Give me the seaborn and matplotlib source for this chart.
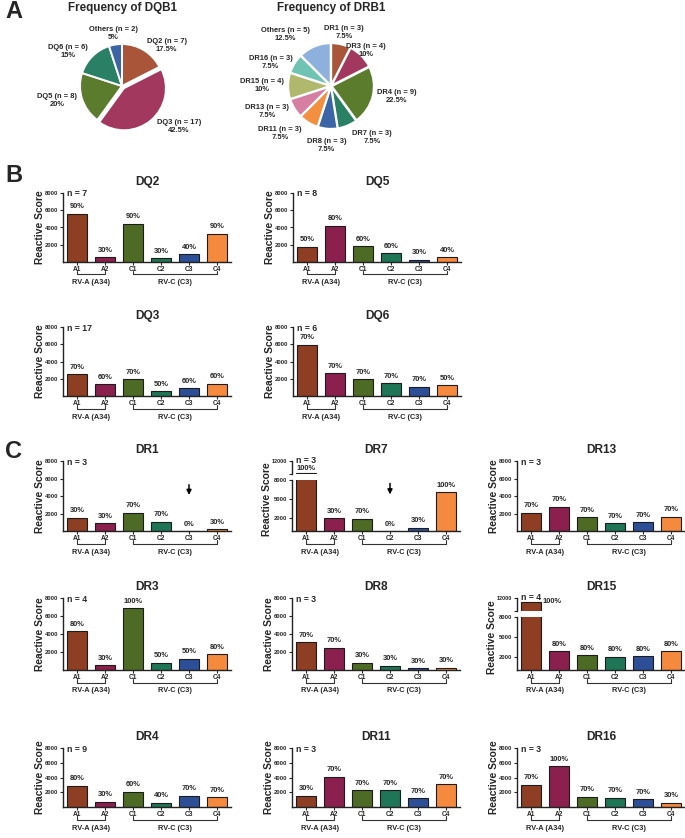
import numpy as np
import matplotlib
matplotlib.use('Agg')
import matplotlib.pyplot as plt
import pandas as pd
import seaborn as sns

sns.set_theme(style='ticks')
plt.rcParams['font.family'] = ['Liberation Sans', 'DejaVu Sans']
plt.rcParams['font.weight'] = 'bold'


# pie chart data (panel A)
dqb1_names = ['DQ2', 'DQ3', 'DQ5', 'DQ6', 'Others']
dqb1_counts = [7, 17, 8, 6, 2]
dqb1_colors = ['#A9553A', '#A3385F', '#5B7B2D', '#2A8065', '#3C65A6']

drb1_names = ['DR1', 'DR3', 'DR4', 'DR7', 'DR8', 'DR11', 'DR13', 'DR15', 'DR16', 'Others']
drb1_counts = [3, 4, 9, 3, 3, 3, 3, 4, 3, 5]
drb1_colors = ['#A9553A', '#A3385F', '#5B7B2D', '#2A8065', '#3C65A6',
               '#F39040', '#D77FA3', '#AFB86D', '#6FC3B2', '#8DB0DD']

# bar chart data (panels B and C)
antigens = ['A1', 'A2', 'C1', 'C2', 'C3', 'C4']
bar_colors = ['#8E3E22', '#8B1F4D', '#4D6B24', '#1E7656', '#2D4F98', '#F58A3F']

dq2_scores = [5580, 580, 4420, 420, 920, 3270]
dq2_pct = [90, 30, 90, 30, 40, 90]
dq5_scores = [1770, 4190, 1850, 1040, 270, 540]
dq5_pct = [50, 80, 60, 60, 30, 40]
dq3_scores = [2540, 1350, 1920, 580, 920, 1420]
dq3_pct = [70, 60, 70, 50, 60, 60]
dq6_scores = [5960, 2650, 1960, 1500, 1080, 1270]
dq6_pct = [70, 70, 70, 70, 70, 50]

dr1_scores = [1500, 870, 2100, 1060, 0, 230]
dr1_pct = [30, 30, 70, 70, 0, 30]
dr7_scores = [10200, 2000, 1900, 0, 500, 6050]
dr7_pct = [100, 30, 70, 0, 30, 100]
dr13_scores = [2100, 2800, 1600, 900, 1000, 1650]
dr13_pct = [70, 70, 70, 70, 70, 70]
dr3_scores = [4330, 520, 6850, 800, 1250, 1780]
dr3_pct = [80, 30, 100, 50, 50, 80]
dr8_scores = [3100, 2500, 800, 500, 200, 250]
dr8_pct = [70, 70, 30, 30, 30, 30]
dr15_scores = [11450, 2800, 2250, 2000, 2100, 2850]
dr15_pct = [100, 80, 80, 80, 80, 80]
dr4_scores = [2870, 700, 2100, 600, 1500, 1350]
dr4_pct = [80, 30, 60, 40, 70, 70]
dr11_scores = [1500, 4100, 2250, 2250, 1200, 3100]
dr11_pct = [30, 70, 70, 70, 70, 70]
dr16_scores = [3000, 5500, 1400, 1250, 1050, 600]
dr16_pct = [70, 100, 70, 70, 70, 30]

# down arrows marking the 0% bars: (antigen index, arrow start, arrow end)
dr1_arrow = (4, 5600, 3800)
dr7_arrow = (3, 7900, 5300)


W, H = 685, 838
fig = plt.figure(figsize=(W / 100, H / 100), dpi=100)


def px_axes(left, top, right, bottom):
    # axes placed with pixel coordinates measured from the top left corner
    return fig.add_axes([left / W, 1 - bottom / H, (right - left) / W, (bottom - top) / H])


def ftext(x, y, s, **kw):
    fig.text(x / W, 1 - y / H, s, **kw)


# panel letters
ftext(5, 12, 'A', fontsize=17, fontweight='bold', va='center')
ftext(5, 175, 'B', fontsize=17, fontweight='bold', va='center')
ftext(5, 451, 'C', fontsize=17, fontweight='bold', va='center')


# ---- panel A: pie charts ----
def draw_pie(cx, cy, r, names, counts, colors, explode, label_dist, label_ha, title):
    ax = px_axes(cx - r * 1.15, cy - r * 1.15, cx + r * 1.15, cy + r * 1.15)
    total = sum(counts)
    labels = ['%s (n = %d)\n%g%%' % (nm, c, c / total * 100) for nm, c in zip(names, counts)]
    wedges, texts = ax.pie(counts, colors=colors, labels=labels, startangle=90,
                           counterclock=False, explode=explode,
                           wedgeprops=dict(edgecolor='white', linewidth=1.4),
                           textprops=dict(fontsize=5.4, fontweight='bold',
                                          multialignment='center'))
    # move the labels out by a per-slice distance
    for w, t, d, ha in zip(wedges, texts, label_dist, label_ha):
        ang = np.deg2rad((w.theta1 + w.theta2) / 2)
        t.set_position((w.center[0] + d * np.cos(ang), w.center[1] + d * np.sin(ang)))
        t.set_horizontalalignment(ha)
    ax.set_xlim(-1.15, 1.15)
    ax.set_ylim(-1.15, 1.15)
    ax.set_aspect('equal')
    ax.axis('off')
    ftext(cx, 8, title, fontsize=8.4, fontweight='bold', ha='center', va='center')


draw_pie(122, 86, 42, dqb1_names, dqb1_counts, dqb1_colors, [0, 0.07, 0, 0, 0],
         [1.12, 1.2, 1.12, 1.15, 1.27],
         ['left', 'left', 'right', 'right', 'center'], 'Frequency of DQB1')
draw_pie(331, 86, 42, drb1_names, drb1_counts, drb1_colors, [0.02] * len(drb1_counts),
         [1.3, 1.17, 1.1, 1.3, 1.4, 1.3, 1.15, 1.1, 1.05, 1.3],
         ['center', 'center', 'left', 'left', 'center', 'right', 'right', 'right',
          'right', 'right'], 'Frequency of DRB1')


# ---- panels B and C: bar charts ----
def style_axis(ax, ylim, yticks):
    ax.set_xlim(-0.5, 5.5)
    ax.set_ylim(*ylim)
    ax.set_xlabel('')
    ax.set_ylabel('')
    ax.set_yticks(yticks)
    ax.set_yticklabels([str(t) for t in yticks], fontsize=4.2, fontweight='bold')
    ax.tick_params(axis='y', length=2.5, width=0.8, pad=1)
    for sp in ['left', 'bottom']:
        ax.spines[sp].set_linewidth(1.0)
        ax.spines[sp].set_color('#222222')
    sns.despine(ax=ax)


def bars(ax, scores):
    df = pd.DataFrame({'antigen': antigens, 'score': scores})
    sns.barplot(data=df, x='antigen', y='score', hue='antigen', palette=bar_colors,
                legend=False, width=0.7, saturation=1, edgecolor='#1c1c1c',
                linewidth=0.8, ax=ax)


def bar_panel(title, n, scores, pct, left, top, bottom, broken=False, arrow=None,
              side_label=False):
    right = left + 168
    if broken:
        ax_up = px_axes(left, top, right, top + 13)
        ax = px_axes(left, top + 19, right, bottom)
        bars(ax_up, scores)
        style_axis(ax_up, (10000, 12000), [10000, 12000])
        ax_up.set_yticklabels(['', '12000'], fontsize=4.0, fontweight='bold')
        ax_up.spines['bottom'].set_visible(False)
        ax_up.set_xticks([])
        bars(ax, scores)
        style_axis(ax, (0, 8000), [2000, 5000, 8000])
    else:
        ax_up = None
        ax = px_axes(left, top, right, bottom)
        bars(ax, scores)
        style_axis(ax, (0, 8000), [2000, 4000, 6000, 8000])

    ax.set_xticks(range(len(antigens)))
    ax.set_xticklabels(antigens, fontsize=4.8, fontweight='bold')
    ax.tick_params(axis='x', length=2, width=0.8, pad=1)

    # percentage of responders above each bar
    for i, (s, p) in enumerate(zip(scores, pct)):
        target = ax_up if (ax_up is not None and s > 8000) else ax
        if side_label and target is ax_up:
            target.annotate('%d%%' % p, xy=(i + 0.35, s), xytext=(1, 0),
                            textcoords='offset points', ha='left', va='center',
                            fontsize=5.4, fontweight='bold', annotation_clip=False)
        elif target is ax_up:
            target.annotate('%d%%' % p, xy=(i, s), xytext=(0, 0.5),
                            textcoords='offset points', ha='center', va='bottom',
                            fontsize=5.4, fontweight='bold', annotation_clip=False)
        else:
            target.annotate('%d%%' % p, xy=(i, s), xytext=(0, 2.5),
                            textcoords='offset points', ha='center', va='bottom',
                            fontsize=5.4, fontweight='bold', annotation_clip=False)

    if arrow is not None:
        xi, y0, y1 = arrow
        ax.annotate('', xy=(xi, y1), xytext=(xi, y0),
                    arrowprops=dict(arrowstyle='-|>', color='black', lw=1.1,
                                    mutation_scale=7))

    # virus group brackets under the x axis
    h = bottom - (top + 19 if broken else top)
    tr = ax.get_xaxis_transform()
    y_tick, y_line, y_txt = -9 / h, -12.5 / h, -21 / h
    for x0, x1, lab in [(0, 1, 'RV-A (A34)'), (2, 5, 'RV-C (C3)')]:
        ax.plot([x0, x0, x1, x1], [y_tick, y_line, y_line, y_tick], transform=tr,
                color='#333333', lw=0.8, clip_on=False)
        ax.text((x0 + x1) / 2, y_txt, lab, transform=tr, ha='center', va='center',
                fontsize=5.3, fontweight='bold')

    ftext(left + 84, top - 11, title, fontsize=8.6, fontweight='bold', ha='center', va='center')
    ftext(left + 4, top - (1 if broken else -1), 'n = %d' % n, fontsize=6.3,
          fontweight='bold', va='center')
    ftext(left - (25 if broken else 23), (top + bottom) / 2 + (3 if broken else 0),
          'Reactive Score', fontsize=7.4, fontweight='bold',
          rotation=90, ha='center', va='center')


# panel B
bar_panel('DQ2', 7, dq2_scores, dq2_pct, 63, 193, 262)
bar_panel('DQ5', 8, dq5_scores, dq5_pct, 293, 193, 262)
bar_panel('DQ3', 17, dq3_scores, dq3_pct, 63, 327, 396)
bar_panel('DQ6', 6, dq6_scores, dq6_pct, 293, 327, 396)

# panel C
bar_panel('DR1', 3, dr1_scores, dr1_pct, 63, 461, 531, arrow=dr1_arrow)
bar_panel('DR7', 3, dr7_scores, dr7_pct, 292, 461, 531, broken=True, arrow=dr7_arrow)
bar_panel('DR13', 3, dr13_scores, dr13_pct, 517, 461, 531)
bar_panel('DR3', 4, dr3_scores, dr3_pct, 63, 598, 670)
bar_panel('DR8', 3, dr8_scores, dr8_pct, 292, 598, 670)
bar_panel('DR15', 4, dr15_scores, dr15_pct, 517, 598, 670, broken=True, side_label=True)
bar_panel('DR4', 9, dr4_scores, dr4_pct, 63, 748, 807)
bar_panel('DR11', 3, dr11_scores, dr11_pct, 292, 748, 807)
bar_panel('DR16', 3, dr16_scores, dr16_pct, 517, 748, 807)

fig.savefig('out.png', dpi=100)
